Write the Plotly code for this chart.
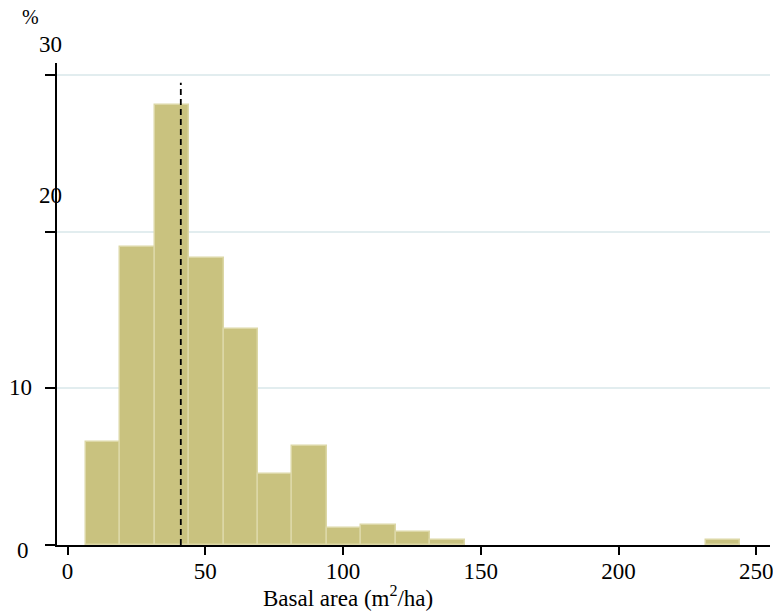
import plotly.graph_objects as go

# ---- data ----
bin_start = 6.6
bin_width = 12.5
percent = [6.6, 19.0, 28.1, 18.3, 13.8, 4.5, 6.3, 1.1, 1.3, 0.85, 0.3,
           0, 0, 0, 0, 0, 0, 0, 0.3]
mean_basal_area = 41.1
mean_line_top = 29.5

x_tick_vals = [0, 50, 100, 150, 200, 250]
x_tick_text = ["0", "50", "100", "150", "200", "250"]
y_tick_vals = [0, 10, 20, 30]
y_tick_text = ["0", "10", "20", "30"]
x_title = "Basal area (m<sup>2</sup>/ha)"
y_unit = "%"

# ---- layout geometry (pixels) ----
W, H = 773, 611
L, R, T, B = 57, 3, 63, 66
pw, ph = W - L - R, H - T - B
X_RANGE = [-3.85, 255.0]
Y_RANGE = [0, 30.76]

def px_to_paper(px, py):
    return (px - L) / pw, (H - B - py) / ph

FONT = "Liberation Serif"
FS = 23

centers = [bin_start + bin_width * (i + 0.5) for i in range(len(percent))]
bx = [c for c, p in zip(centers, percent) if p > 0]
by = [p for p in percent if p > 0]

fig = go.Figure()
fig.add_trace(go.Bar(
    x=bx, y=by, width=[bin_width] * len(bx),
    marker=dict(color="#c9c27f", line=dict(color="#dcd7a6", width=1.5)),
    hoverinfo="x+y",
))

fig.add_shape(type="line", x0=mean_basal_area, x1=mean_basal_area,
              y0=0, y1=mean_line_top, xref="x", yref="y",
              line=dict(color="black", width=1.8, dash="6px,4px"))

# y tick labels placed as in the reference (offset from ticks)
y_label_px = [(23, 550), (20, 387), (50, 195), (50, 45)]
anns = []
for txt, (px, py) in zip(y_tick_text, y_label_px):
    ax, ay = px_to_paper(px, py)
    anns.append(dict(text=txt, x=ax, y=ay, xref="paper", yref="paper",
                     xanchor="center", yanchor="middle", showarrow=False,
                     font=dict(family=FONT, size=FS, color="black")))
ux, uy = px_to_paper(30, 17)
anns.append(dict(text=y_unit, x=ux, y=uy, xref="paper", yref="paper",
                 xanchor="center", yanchor="middle", showarrow=False,
                 font=dict(family=FONT, size=20, color="black")))
tx, ty = px_to_paper(347.5, 596)
anns.append(dict(text=x_title, x=tx, y=ty, xref="paper", yref="paper",
                 xanchor="center", yanchor="middle", showarrow=False,
                 font=dict(family=FONT, size=FS, color="black")))

fig.update_layout(
    width=W, height=H,
    margin=dict(l=L, r=R, t=T, b=B, pad=0),
    plot_bgcolor="white", paper_bgcolor="white",
    showlegend=False, bargap=0,
    annotations=anns,
    xaxis=dict(range=X_RANGE, tickvals=x_tick_vals, ticktext=x_tick_text,
               ticks="outside", ticklen=8, tickwidth=2, tickcolor="black",
               showline=True, linecolor="black", linewidth=2,
               showgrid=False, zeroline=False, automargin=False,
               ticklabeloverflow="allow", ticklabelstandoff=-4,
               tickfont=dict(family=FONT, size=FS, color="black")),
    yaxis=dict(range=Y_RANGE, tickvals=y_tick_vals, ticktext=y_tick_text,
               showticklabels=False,
               ticks="outside", ticklen=10, tickwidth=2, tickcolor="black",
               showline=True, linecolor="black", linewidth=2,
               showgrid=True, gridcolor="#e2edef", gridwidth=1.5,
               zeroline=False),
)

fig.write_html("out.html", config={"displayModeBar": False},
               post_script="document.body.style.margin='0';")
